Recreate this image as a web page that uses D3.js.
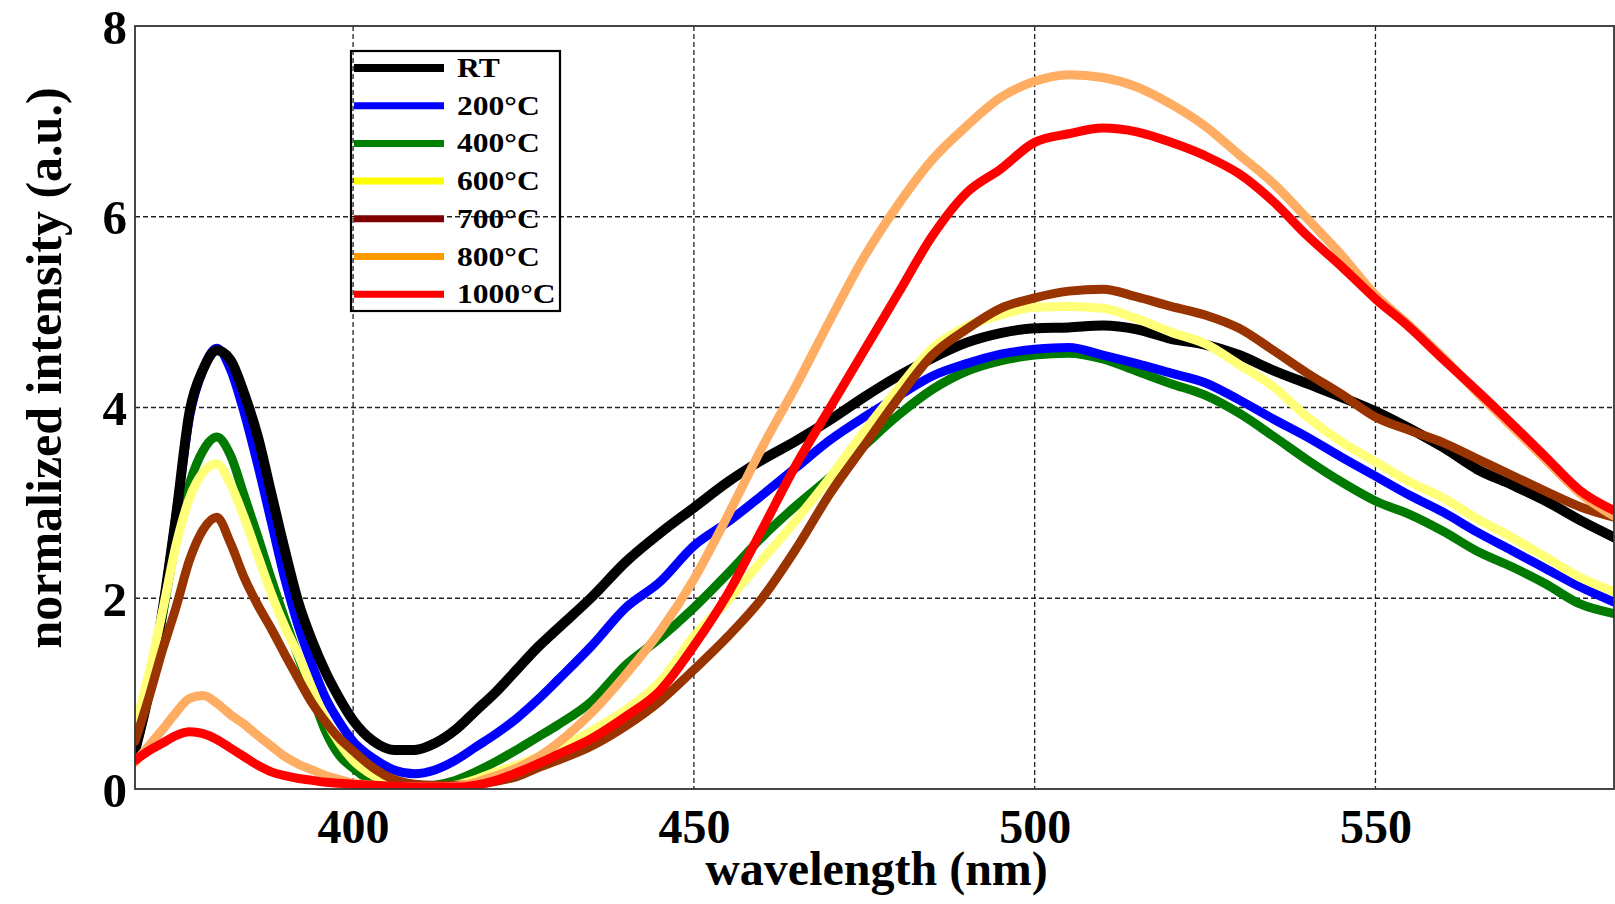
<!DOCTYPE html>
<html>
<head>
<meta charset="utf-8">
<script src="https://cdn.jsdelivr.net/npm/d3@7"></script>
<style>
    html, body { margin: 0; padding: 0; background: #fff; }
    svg { display: block; }
    text { font-family: "Liberation Serif", "Times New Roman", serif; font-weight: bold; fill: #000; }
</style>
</head>
<body>
<svg id="pl-chart"></svg>
<script>
// wavelength (nm) and normalized intensity
var wavelength = [368, 370, 372, 374, 376, 378, 380, 382, 384, 386, 388, 390, 392, 394, 396, 398,
    400, 403, 406, 409, 412, 415, 418, 421, 424, 427, 430,
    435, 440, 445, 450, 455, 460, 465, 470, 475, 480, 485, 490, 495, 500, 505, 510, 515, 520,
    525, 530, 535, 540, 545, 550, 555, 560, 565, 570, 575, 580, 585];

var rt = [0.40, 1.00, 1.85, 2.85, 3.95, 4.40, 4.60, 4.50, 4.15, 3.70, 3.10, 2.50, 1.95, 1.55, 1.22, 0.95,
    0.72, 0.50, 0.41, 0.41, 0.48, 0.62, 0.82, 1.02, 1.25, 1.48, 1.68,
    2.01, 2.38, 2.68, 2.95, 3.22, 3.45, 3.65, 3.87, 4.11, 4.33, 4.52, 4.68, 4.78, 4.83, 4.84, 4.86, 4.82, 4.72,
    4.66, 4.55, 4.39, 4.25, 4.11, 3.96, 3.78, 3.58, 3.35, 3.19, 3.02, 2.82, 2.64];

var t200 = [0.40, 1.00, 1.85, 2.85, 3.90, 4.40, 4.62, 4.40, 3.95, 3.40, 2.80, 2.20, 1.70, 1.30, 0.95, 0.70,
    0.50, 0.32, 0.20, 0.16, 0.20, 0.30, 0.44, 0.58, 0.74, 0.93, 1.14,
    1.50, 1.90, 2.17, 2.55, 2.80, 3.08, 3.37, 3.66, 3.90, 4.12, 4.33, 4.46, 4.56, 4.61, 4.63, 4.55, 4.46, 4.36,
    4.26, 4.08, 3.88, 3.69, 3.48, 3.28, 3.08, 2.90, 2.69, 2.50, 2.31, 2.12, 1.96];

var t400 = [0.45, 1.00, 1.80, 2.60, 3.20, 3.55, 3.69, 3.50, 3.08, 2.65, 2.20, 1.78, 1.38, 0.98, 0.60, 0.35,
    0.22, 0.07, 0.03, 0.02, 0.04, 0.09, 0.18, 0.29, 0.41, 0.54, 0.67,
    0.92, 1.30, 1.58, 1.90, 2.26, 2.64, 2.97, 3.27, 3.60, 3.92, 4.19, 4.38, 4.49, 4.55, 4.57, 4.51, 4.38, 4.25,
    4.13, 3.94, 3.70, 3.45, 3.22, 3.02, 2.88, 2.70, 2.49, 2.33, 2.15, 1.94, 1.84];

var t600 = [0.65, 1.20, 1.85, 2.55, 3.05, 3.32, 3.41, 3.20, 2.85, 2.45, 2.05, 1.70, 1.40, 1.05, 0.72, 0.48,
    0.30, 0.14, 0.05, 0.02, 0.02, 0.04, 0.10, 0.18, 0.25, 0.33, 0.41,
    0.61, 0.83, 1.12, 1.60, 1.98, 2.40, 2.82, 3.27, 3.75, 4.20, 4.62, 4.85, 4.97, 5.05, 5.06, 5.04, 4.93, 4.79,
    4.67, 4.45, 4.22, 3.90, 3.64, 3.43, 3.22, 3.05, 2.83, 2.64, 2.43, 2.22, 2.07];

var t700 = [0.50, 0.95, 1.45, 1.90, 2.40, 2.72, 2.85, 2.58, 2.22, 1.93, 1.68, 1.41, 1.15, 0.90, 0.70, 0.53,
    0.40, 0.22, 0.10, 0.05, 0.04, 0.04, 0.05, 0.08, 0.13, 0.22, 0.30,
    0.45, 0.66, 0.92, 1.25, 1.60, 2.00, 2.52, 3.10, 3.60, 4.10, 4.55, 4.82, 5.04, 5.15, 5.22, 5.24, 5.16, 5.06,
    4.97, 4.83, 4.60, 4.36, 4.14, 3.90, 3.76, 3.63, 3.46, 3.29, 3.12, 2.96, 2.85];

var t800 = [0.28, 0.45, 0.62, 0.80, 0.95, 0.98, 0.90, 0.78, 0.68, 0.56, 0.45, 0.34, 0.26, 0.20, 0.14, 0.10,
    0.06, 0.04, 0.02, 0.02, 0.02, 0.03, 0.07, 0.14, 0.22, 0.33, 0.48,
    0.80, 1.20, 1.65, 2.20, 2.87, 3.58, 4.23, 4.92, 5.58, 6.13, 6.60, 6.95, 7.25, 7.42, 7.49, 7.46, 7.36, 7.18,
    6.95, 6.65, 6.35, 5.98, 5.60, 5.18, 4.86, 4.52, 4.15, 3.80, 3.45, 3.10, 2.86];

var t1000 = [0.30, 0.40, 0.48, 0.56, 0.60, 0.58, 0.52, 0.43, 0.34, 0.25, 0.18, 0.14, 0.11, 0.09, 0.07, 0.06,
    0.05, 0.04, 0.03, 0.02, 0.02, 0.02, 0.04, 0.09, 0.17, 0.26, 0.36,
    0.53, 0.76, 1.03, 1.50, 2.05, 2.72, 3.40, 4.00, 4.60, 5.20, 5.80, 6.25, 6.50, 6.78, 6.87, 6.93, 6.89, 6.78,
    6.64, 6.45, 6.16, 5.80, 5.48, 5.14, 4.84, 4.50, 4.17, 3.83, 3.48, 3.13, 2.92];

var labels = ['RT', '200°C', '400°C', '600°C', '700°C', '800°C', '1000°C'];
var values = [rt, t200, t400, t600, t700, t800, t1000];

var xTicks = [400, 450, 500, 550];
var yTicks = [0, 2, 4, 6, 8];

// styles: plot colours differ a little from the legend swatches in the original
var lineColors = ['#000000', '#0000ff', '#007a00', '#ffff78', '#993300', '#ffad62', '#ff0000'];
var legendColors = ['#000000', '#0000ff', '#008000', '#ffff00', '#800000', '#ff9900', '#ff0000'];
var drawOrder = [2, 1, 0, 3, 4, 5, 6];

var width = 1615,
    height = 904,
    plotLeft = 135,
    plotRight = 1614,
    plotTop = 26,
    plotBottom = 789;

var svg = d3.select('#pl-chart').attr('width', width).attr('height', height);

var x = d3.scaleLinear().domain([368, 585]).range([plotLeft, plotRight]);
var y = d3.scaleLinear().domain([0, 8]).range([plotBottom, plotTop]);

svg.append('defs')
    .append('clipPath')
    .attr('id', 'plot-clip')
    .append('rect')
    .attr('x', plotLeft)
    .attr('y', plotTop)
    .attr('width', plotRight - plotLeft)
    .attr('height', plotBottom - plotTop);

// dashed grid
var grid = svg.append('g').attr('class', 'grid');
grid.selectAll('line.v')
    .data(xTicks)
    .enter()
    .append('line')
    .attr('class', 'v')
    .attr('x1', function(d) { return x(d); })
    .attr('x2', function(d) { return x(d); })
    .attr('y1', plotTop)
    .attr('y2', plotBottom);
grid.selectAll('line.h')
    .data(yTicks.filter(function(d) { return d > 0 && d < 8; }))
    .enter()
    .append('line')
    .attr('class', 'h')
    .attr('x1', plotLeft)
    .attr('x2', plotRight)
    .attr('y1', function(d) { return y(d); })
    .attr('y2', function(d) { return y(d); });
grid.selectAll('line')
    .attr('stroke', '#222')
    .attr('stroke-width', 1.3)
    .attr('stroke-dasharray', '5,3');

// curves
var line = d3.line()
    .x(function(d) { return x(d[0]); })
    .y(function(d) { return y(d[1]); })
    .curve(d3.curveMonotoneX);

svg.append('g')
    .attr('clip-path', 'url(#plot-clip)')
    .selectAll('path')
    .data(drawOrder)
    .enter()
    .append('path')
    .attr('d', function(i) {
        return line(wavelength.map(function(w, k) { return [w, values[i][k]]; }));
    })
    .attr('fill', 'none')
    .attr('stroke', function(i) { return lineColors[i]; })
    .attr('stroke-width', function(i) { return i === 0 ? 10 : 9; })
    .attr('stroke-linejoin', 'round')
    .attr('stroke-linecap', 'round');

// frame
svg.append('rect')
    .attr('x', plotLeft)
    .attr('y', plotTop)
    .attr('width', plotRight - plotLeft)
    .attr('height', plotBottom - plotTop)
    .attr('fill', 'none')
    .attr('stroke', '#333')
    .attr('stroke-width', 1.8);

// axes (labels only, the frame is drawn above)
var xAxis = svg.append('g')
    .attr('transform', 'translate(0,' + plotBottom + ')')
    .call(d3.axisBottom(x).tickValues(xTicks).tickSize(0).tickFormat(d3.format('d')));
xAxis.select('.domain').remove();
xAxis.selectAll('text')
    .attr('y', 54)
    .attr('dy', null)
    .style('font-size', '48px');

var yAxis = svg.append('g')
    .attr('transform', 'translate(' + plotLeft + ',0)')
    .call(d3.axisLeft(y).tickValues(yTicks).tickSize(0).tickFormat(d3.format('d')));
yAxis.select('.domain').remove();
yAxis.selectAll('text')
    .attr('x', -8)
    .attr('dy', null)
    .attr('y', 17)
    .style('font-size', '49px');

svg.selectAll('.tick text')
    .attr('fill', '#000')
    .style('font-family', '"Liberation Serif", "Times New Roman", serif')
    .style('font-weight', 'bold');

// axis titles
svg.append('text')
    .attr('x', (plotLeft + plotRight) / 2 + 2)
    .attr('y', 885)
    .attr('text-anchor', 'middle')
    .style('font-size', '48px')
    .text('wavelength (nm)');

svg.append('text')
    .attr('transform', 'translate(61,368) rotate(-90)')
    .attr('text-anchor', 'middle')
    .style('font-size', '50px')
    .text('normalized intensity (a.u.)');

// legend (no fill, the grid shows through in the original)
var legend = svg.append('g').attr('class', 'legend');
legend.append('rect')
    .attr('x', 351)
    .attr('y', 51)
    .attr('width', 209)
    .attr('height', 260)
    .attr('fill', 'none')
    .attr('stroke', '#000')
    .attr('stroke-width', 2.2);

var item = legend.selectAll('g.item')
    .data(labels)
    .enter()
    .append('g')
    .attr('class', 'item')
    .attr('transform', function(d, i) { return 'translate(0,' + (68 + i * 37.7) + ')'; });

item.append('line')
    .attr('x1', 354)
    .attr('x2', 444)
    .attr('y1', 0)
    .attr('y2', 0)
    .attr('stroke', function(d, i) { return legendColors[i]; })
    .attr('stroke-width', function(d, i) { return i === 0 ? 8 : 7; });

item.append('text')
    .attr('transform', 'translate(457,9) scale(1.17,1)')
    .style('font-size', '27px')
    .text(function(d) { return d; });
</script>
</body>
</html>
